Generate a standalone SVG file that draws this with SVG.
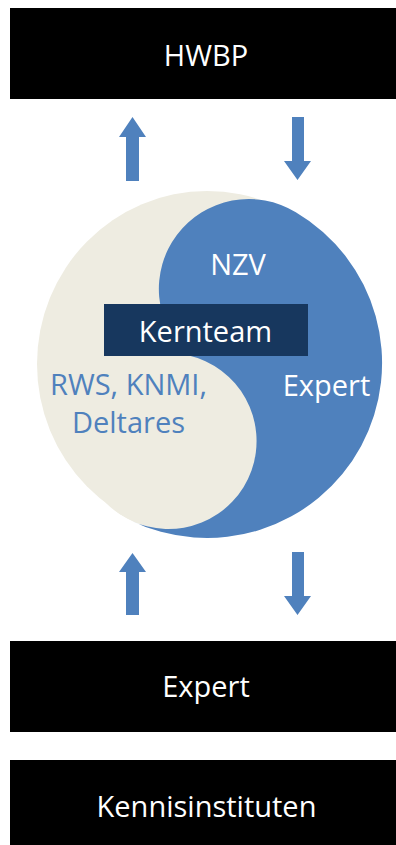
<svg xmlns="http://www.w3.org/2000/svg" width="396" height="845" viewBox="0 0 396 845">
<style>
.box{fill:#000000}
.lbl{font-family:"Open Sans","Liberation Sans",sans-serif;font-size:29px;text-anchor:middle}
.w{fill:#FFFFFF}
.b{fill:#4F81BD}
.arrow{fill:#4F81BD}
.beige{fill:#EEECE1}
.blue{fill:#4F81BD}
.kern{fill:#17375E}
</style>
<defs>
<clipPath id="beigeClip"><ellipse cx="207" cy="364" rx="171" ry="175"/></clipPath>
</defs>
<rect width="396" height="845" fill="#FFFFFF"/>
<g id="hwbp">
<rect class="box" x="10" y="8" width="392" height="91"/>
<text class="lbl w" x="206" y="66">HWBP</text>
</g>
<g id="yinyang">
<ellipse class="beige" cx="207" cy="364" rx="170" ry="173"/>
<circle class="beige" cx="168.5" cy="441" r="88" clip-path="url(#beigeClip)"/>
<path class="blue" d="M295.82,212.21 A175,175 0 0 1 129.57,519.94 A88,88 0 1 0 187.9,355.2 A90,90 0 0 1 295.82,212.21 Z"/>
</g>
<g id="nzv">
<text class="lbl w" x="238" y="275">NZV</text>
</g>
<g id="rws">
<text class="lbl b" x="128.5" y="395">RWS, KNMI,</text>
<text class="lbl b" x="128.5" y="433">Deltares</text>
</g>
<g id="expert-inner">
<text class="lbl w" x="326.5" y="396">Expert</text>
</g>
<g id="kernteam">
<rect class="kern" x="104" y="304" width="204" height="52"/>
<text class="lbl w" x="205.5" y="342">Kernteam</text>
</g>
<g id="expert">
<rect class="box" x="10" y="641" width="392" height="91"/>
<text class="lbl w" x="206" y="697">Expert</text>
</g>
<g id="kennisinstituten">
<rect class="box" x="10" y="760" width="392" height="92"/>
<text class="lbl w" x="206.5" y="817">Kennisinstituten</text>
</g>
<g id="connectors">
<polygon class="arrow" points="132.5,117 146,137 139,137 139,181 126,181 126,137 119,137"/>
<polygon class="arrow" points="292,117 304,117 304,161 311,161 297.5,180 284,161 292,161"/>
<polygon class="arrow" points="132.5,553 146,572 139,572 139,615 126,615 126,572 119,572"/>
<polygon class="arrow" points="292,552 304,552 304,596 311,596 297.5,615 284,596 292,596"/>
</g>
</svg>
